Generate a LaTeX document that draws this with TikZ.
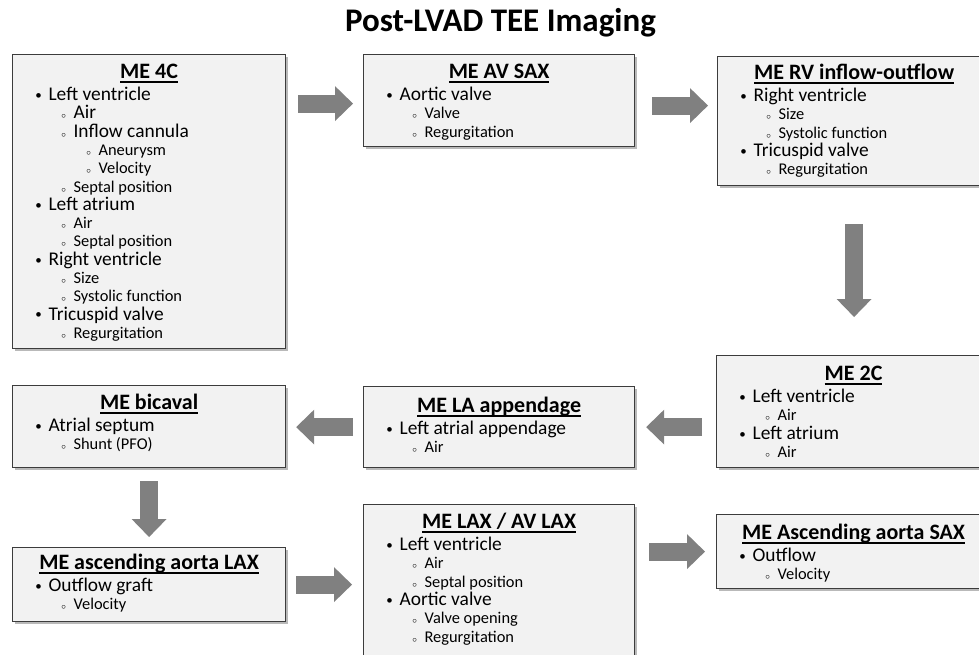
\documentclass[tikz,border=0pt]{standalone}
\usepackage{fontspec}
\setmainfont{Carlito}
\usetikzlibrary{arrows.meta,shadows,calc}

\definecolor{arrowgray}{HTML}{808080}
\definecolor{boxfill}{HTML}{F2F2F2}
\definecolor{boxline}{HTML}{3C3C3C}

\newcommand{\headul}[1]{\setbox0\hbox{#1}\rlap{\rule[-4pt]{\wd0}{1.6pt}}\box0}
\newcommand{\smallcirc}{{\fontsize{9}{9}\selectfont$\circ$}}
\newcommand{\bigdot}{\raisebox{1.2pt}{\fontsize{13}{13}\selectfont\textbullet}}
\newcommand{\boxtext}[3]{\parbox[t][#2][t]{#1}{\fontsize{19.4}{18.3}\selectfont\lineskiplimit=-100pt\parindent=0pt #3}}
\newcommand{\boxhead}[2][24pt]{\makebox[\linewidth][c]{\rule{0pt}{#1}\fontsize{22}{24}\selectfont\bfseries\headul{#2}}\par\vspace{3.7pt}}
\newcommand{\lvone}[1]{\hspace*{16pt}\makebox[20pt]{\bigdot}#1\par}
\newcommand{\lvtwo}[2][16.4]{\hspace*{41pt}\makebox[20pt]{\smallcirc}{\fontsize{#1}{18.3}\selectfont#2}\par}
\newcommand{\lvthree}[1]{\hspace*{66pt}\makebox[20pt]{\smallcirc}{\fontsize{16.4}{18.3}\selectfont#1}\par}

\begin{document}
\begin{tikzpicture}[x=1pt,y=-1pt,
  box/.style={draw=boxline,line width=1.2pt,fill=boxfill,inner sep=0pt,anchor=north west,
    drop shadow={shadow xshift=2.5pt,shadow yshift=-2.5pt,fill=black!55,opacity=0.5}},
  flow/.style={draw=arrowgray,line width=18pt,-{Triangle[width=35pt,length=18pt,line width=0pt]}}]
\useasboundingbox (0,0) rectangle (979,655);

\node[font=\fontsize{33}{36}\selectfont\bfseries,anchor=base] (title) at (500.5,32) {Post-LVAD TEE Imaging};

% top row
\node[box] (me4c) at (12,54) {\boxtext{273pt}{294pt}{%
  \boxhead{ME 4C}
  \lvone{Left ventricle}
  \lvtwo[19.4]{Air}
  \lvtwo[19.4]{Inflow cannula}
  \lvthree{Aneurysm}
  \lvthree{Velocity}
  \lvtwo{Septal position}
  \lvone{Left atrium}
  \lvtwo{Air}
  \lvtwo{Septal position}
  \lvone{Right ventricle}
  \lvtwo{Size}
  \lvtwo{Systolic function}
  \lvone{Tricuspid valve}
  \lvtwo{Regurgitation}}};
\node[box] (meavsax) at (363,54) {\boxtext{271pt}{92pt}{%
  \boxhead{ME AV SAX}
  \lvone{Aortic valve}
  \lvtwo{Valve}
  \lvtwo{Regurgitation}}};
\node[box] (merv) at (717,56) {\boxtext{273pt}{129pt}{%
  \boxhead[23pt]{ME RV inflow-outflow}
  \lvone{Right ventricle}
  \lvtwo{Size}
  \lvtwo{Systolic function}
  \lvone{Tricuspid valve}
  \lvtwo{Regurgitation}}};

% middle row
\node[box] (me2c) at (716,355) {\boxtext{274pt}{112pt}{%
  \boxhead[25pt]{ME 2C}
  \lvone{Left ventricle}
  \lvtwo{Air}
  \lvone{Left atrium}
  \lvtwo{Air}}};
\node[box] (melaa) at (363,386) {\boxtext{271pt}{81pt}{%
  \boxhead[26pt]{ME LA appendage}
  \lvone{Left atrial appendage}
  \lvtwo{Air}}};
\node[box] (mebicaval) at (12,385) {\boxtext{273pt}{82pt}{%
  \boxhead{ME bicaval}
  \lvone{Atrial septum}
  \lvtwo{Shunt (PFO)}}};

% bottom row
\node[box] (meaalax) at (12,547) {\boxtext{273pt}{74pt}{%
  \boxhead[22pt]{ME ascending aorta LAX}
  \lvone{Outflow graft}
  \lvtwo{Velocity}}};
\node[box] (melax) at (363,504) {\boxtext{271pt}{160pt}{%
  \boxhead{ME LAX / AV LAX}
  \lvone{Left ventricle}
  \lvtwo{Air}
  \lvtwo{Septal position}
  \lvone{Aortic valve}
  \lvtwo{Valve opening}
  \lvtwo{Regurgitation}}};
\node[box] (measax) at (716,514) {\boxtext{274pt}{74pt}{%
  \boxhead[25pt]{ME Ascending aorta SAX}
  \lvone{Outflow}
  \lvtwo{Velocity}}};

% sequence of views
\draw[flow,shorten <=12pt,shorten >=10pt] ($(me4c.east |- meavsax.west)+(0,3)$) -- ($(meavsax.west)+(0,3)$);
\draw[flow,shorten <=17pt,shorten >=9pt] ($(meavsax.east)+(0,5)$) -- ($(merv.west |- meavsax.east)+(0,5)$);
\draw[flow,shorten <=38pt,shorten >=38pt] (merv.south) -- (merv.south |- me2c.north);
\draw[flow,shorten <=14pt,shorten >=11pt] (me2c.west |- melaa.east) -- (melaa.east);
\draw[flow,shorten <=10pt,shorten >=10pt] (melaa.west) -- (mebicaval.east |- melaa.west);
\draw[flow,shorten <=13pt,shorten >=10pt] (mebicaval.south) -- (meaalax.north);
\draw[flow,shorten <=10pt,shorten >=11pt] (meaalax.east) -- (melax.west |- meaalax.east);
\draw[flow,shorten <=14pt,shorten >=11pt] (melax.east |- measax.west) -- (measax.west);
\end{tikzpicture}
\end{document}
